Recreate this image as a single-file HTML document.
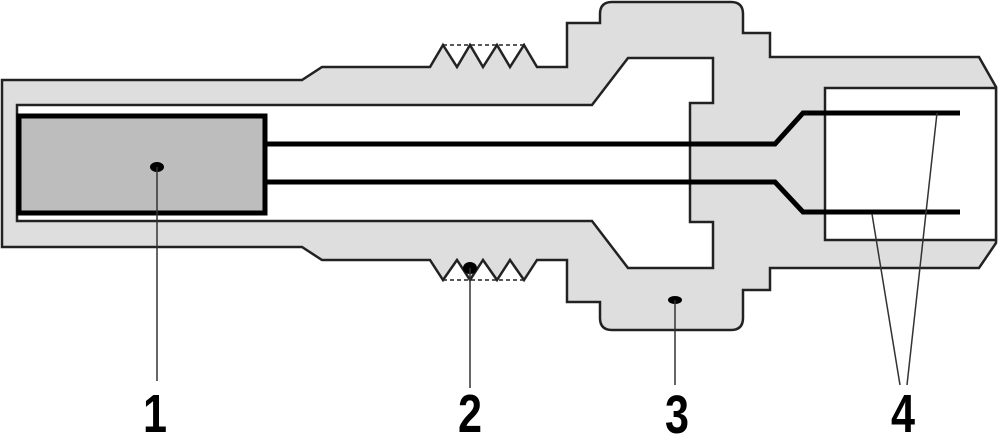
<!DOCTYPE html>
<html><head><style>
html,body{margin:0;padding:0;background:#fff;width:1000px;height:446px;overflow:hidden}
svg{display:block}
text{font-family:"Liberation Sans",sans-serif;font-weight:bold;font-size:54px;fill:#000}
</style></head><body>
<svg width="1000" height="446" viewBox="0 0 1000 446">
<!-- body -->
<path d="M2,80 L302,80 L322,67 L430,67 L443,45 L457,67 L470,45 L483,67 L497,45 L510,67 L524,45 L537,67 L567,67 L567,23 L600,23 L600,14 Q600,2 612,2 L731,2 Q743,2 743,14 L743,33 L770,33 L770,57 L979,57 L996,87 L996,243 L979,268 L770,268 L770,290 L743,290 L743,318 Q743,330 731,330 L612,330 Q600,330 600,318 L600,302 L567,302 L567,260 L537,260 L524,280 L510,260 L497,280 L483,260 L470,280 L457,260 L443,280 L430,260 L322,260 L302,247 L2,247 Z" fill="#dedede" stroke="#222" stroke-width="2.5" stroke-linejoin="miter"/>
<line x1="443" y1="45" x2="524" y2="45" stroke="#222" stroke-width="1.5" stroke-dasharray="4,3"/>
<line x1="443" y1="280" x2="524" y2="280" stroke="#222" stroke-width="1.5" stroke-dasharray="4,3"/>
<!-- inner cavity -->
<path d="M17,105 L592,105 L628,58 L713,58 L713,103 L690,103 L690,222 L713,222 L713,268 L628,268 L592,221 L17,221 Z" fill="#fff" stroke="#222" stroke-width="2.5"/>
<!-- right cavity -->
<rect x="825" y="88" width="171" height="152" fill="#fff" stroke="#222" stroke-width="2.5"/>
<!-- element 1 -->
<rect x="19" y="116" width="246" height="97" fill="#bdbdbd" stroke="#000" stroke-width="5"/>
<!-- wires -->
<path d="M267,144 L775,144 L803,113 L960,113" fill="none" stroke="#000" stroke-width="5"/>
<path d="M267,182 L775,182 L803,212 L960,212" fill="none" stroke="#000" stroke-width="5"/>
<!-- leaders -->
<ellipse cx="157" cy="167" rx="7" ry="5" fill="#000"/>
<line x1="157" y1="167" x2="157" y2="381" stroke="#333" stroke-width="1.5"/>
<ellipse cx="470" cy="268" rx="7" ry="6" fill="#000"/>
<line x1="470" y1="268" x2="470" y2="388" stroke="#333" stroke-width="1.5"/>
<ellipse cx="675" cy="300" rx="7" ry="4" fill="#000"/>
<line x1="675" y1="300" x2="675" y2="385" stroke="#333" stroke-width="1.5"/>
<line x1="937" y1="113" x2="907" y2="385" stroke="#333" stroke-width="1.5"/>
<line x1="872" y1="214" x2="900" y2="385" stroke="#333" stroke-width="1.5"/>
<!-- labels -->
<g transform="translate(155,432) scale(0.8,1)"><text text-anchor="middle" x="0" y="0">1</text></g>
<g transform="translate(470,432) scale(0.8,1)"><text text-anchor="middle" x="0" y="0">2</text></g>
<g transform="translate(677,433) scale(0.8,1)"><text text-anchor="middle" x="0" y="0">3</text></g>
<g transform="translate(903,432) scale(0.8,1)"><text text-anchor="middle" x="0" y="0">4</text></g>
</svg>
</body></html>
